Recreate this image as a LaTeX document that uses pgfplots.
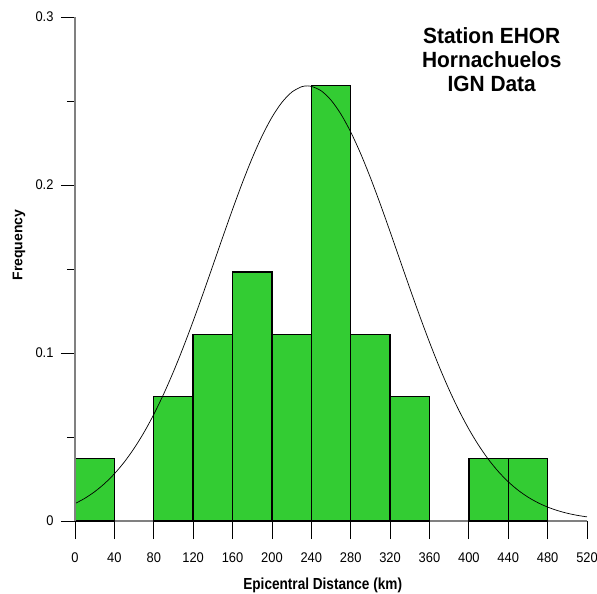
\documentclass[border=0pt]{standalone}
\usepackage{fontspec}
\setmainfont{Liberation Sans}
\newfontfamily\tickfont[FakeStretch=0.92]{Liberation Sans}
\newfontfamily\labfont[FakeStretch=0.85]{Liberation Sans}
\newfontfamily\ttlfont[FakeStretch=0.95]{Liberation Sans}
\usepackage{pgfplots}
\pgfplotsset{compat=1.18}
\definecolor{barGreen}{RGB}{51,204,51}
\pgfplotsset{
  common/.style={
    at={(0,0)}, anchor=south west,
    scale only axis, width=512pt, height=504pt,
    xmin=0, xmax=520, ymin=0, ymax=0.3,
    clip=false,
    axis line style={draw=gray, line width=1.2pt},
    tick align=outside,
    tick style={black, line width=0.8pt},
    every tick label/.append style={font=\tickfont\fontsize{14}{16}\selectfont},
    /pgf/number format/assume math mode=true,
  }
}
\begin{document}
\begin{tikzpicture}
\useasboundingbox (-75pt,-73pt) rectangle (522pt,521pt);
\begin{axis}[
  common,
  axis x line*=bottom, axis y line=none,
  xtick={0,40,...,520},
  major tick length=18pt,
  xticklabel style={yshift=-10pt},
]
\addplot[ybar interval, fill=barGreen, draw=black, line width=1.4pt]
  coordinates {(0,0.037037) (40,0.037037)};
\addplot[ybar interval, fill=barGreen, draw=black, line width=1.4pt]
  coordinates {(80,0.074074) (120,0.111111) (160,0.148148) (200,0.111111)
               (240,0.259259) (280,0.111111) (320,0.074074) (360,0)};
\addplot[ybar interval, fill=barGreen, draw=black, line width=1.4pt]
  coordinates {(400,0.037037) (440,0.037037) (480,0)};
\addplot[black, line width=0.7pt, smooth] coordinates {
(0,0.01035) (10,0.01352) (20,0.01745) (30,0.02228) (40,0.02811) (50,0.03505)
(60,0.04322) (70,0.05265) (80,0.06343) (90,0.07553) (100,0.08889) (110,0.10345)
(120,0.11897) (130,0.13526) (140,0.15202) (150,0.16889) (160,0.18547) (170,0.20134)
(180,0.21605) (190,0.22918) (200,0.24031) (210,0.24907) (220,0.25520) (230,0.25846)
(236,0.25900) (240,0.25876) (250,0.25608) (260,0.25052) (270,0.24226) (280,0.23157)
(290,0.21882) (300,0.20439) (310,0.18872) (320,0.17225) (330,0.15540) (340,0.13860)
(350,0.12219) (360,0.10648) (370,0.09172) (380,0.07811) (390,0.06575) (400,0.05471)
(410,0.04500) (420,0.03658) (430,0.02940) (440,0.02336) (450,0.01834) (460,0.01424)
(470,0.01093) (480,0.00829) (490,0.00622) (500,0.00461) (510,0.00338) (520,0.00245)};
\end{axis}
\begin{axis}[
  common,
  axis x line=none, axis y line*=left,
  ytick={0,0.1,0.2,0.3},
  minor ytick={0.05,0.15,0.25},
  major tick length=14pt, minor tick length=8pt,
  yticklabel style={/pgf/number format/fixed, xshift=-4pt},
]
\addplot[draw=none] coordinates {(0,0) (520,0.3)};
\end{axis}
\node[anchor=base, font=\ttlfont\bfseries\fontsize{22}{24}\selectfont] at (416.7pt,477.7pt) {Station EHOR};
\node[anchor=base, font=\ttlfont\bfseries\fontsize{22}{24}\selectfont] at (416.7pt,453.7pt) {Hornachuelos};
\node[anchor=base, font=\ttlfont\bfseries\fontsize{22}{24}\selectfont] at (416.7pt,429.3pt) {IGN Data};
\node[anchor=base, font=\labfont\bfseries\fontsize{16}{18}\selectfont] at (247.7pt,-68pt) {Epicentral Distance (km)};
\node[rotate=90, font=\bfseries\fontsize{14}{16}\selectfont] at (-56pt,276pt) {Frequency};
\end{tikzpicture}
\end{document}
